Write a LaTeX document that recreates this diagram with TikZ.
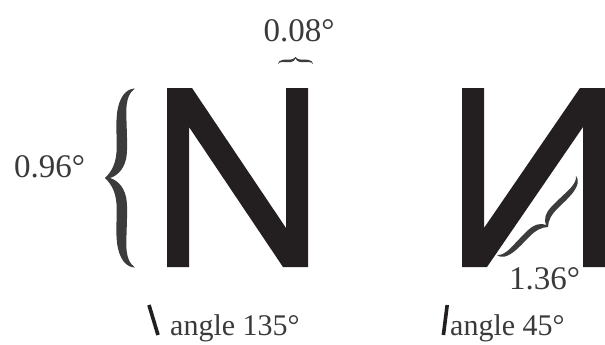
\documentclass[tikz,border=0pt]{standalone}
\usepackage{fontspec}
\setmainfont{Liberation Serif}
\definecolor{letterink}{HTML}{231F20}
\definecolor{textink}{HTML}{3A3A3A}
\definecolor{braceink}{HTML}{3C3C3C}
\tikzset{
  glyphfill/.style={fill=letterink},
  lbl/.style={text=textink, inner sep=0pt, font=\fontsize{33}{33}\selectfont},
  lblsmall/.style={text=textink, inner sep=0pt, font=\fontsize{30}{30}\selectfont},
  slashstroke/.style={draw=letterink, line width=3.6pt, line cap=butt},
  pics/curlybrace/.style={code={
    \fill[braceink] (0,0)
      .. controls (0.25,0.08) and (0.39,0.18) .. (0.39,0.35)
      .. controls (0.39,0.5) and (0.36,0.6) .. (0.40,0.72)
      .. controls (0.46,0.9) and (0.7,1.0) .. (1,1)
      .. controls (0.82,0.96) and (0.70,0.88) .. (0.71,0.72)
      .. controls (0.72,0.55) and (0.75,0.4) .. (0.73,0.28)
      .. controls (0.70,0.12) and (0.45,0.03) .. (0.17,0)
      .. controls (0.45,-0.03) and (0.70,-0.12) .. (0.73,-0.28)
      .. controls (0.75,-0.4) and (0.72,-0.55) .. (0.71,-0.72)
      .. controls (0.70,-0.88) and (0.82,-0.96) .. (1,-1)
      .. controls (0.7,-1.0) and (0.46,-0.9) .. (0.40,-0.72)
      .. controls (0.36,-0.6) and (0.39,-0.5) .. (0.39,-0.35)
      .. controls (0.39,-0.18) and (0.25,-0.08) .. (0,0) -- cycle;
  }}
}
\begin{document}
\begin{tikzpicture}[x=1pt,y=-1pt]
\useasboundingbox (0,0) rectangle (605,345);
% letter N
\fill[glyphfill] (167,88) -- (192,88) -- (286,228) -- (286,88) -- (308,88) -- (308,267)
  -- (283,267) -- (189,127) -- (189,267) -- (167,267) -- cycle;
% letter mirrored N
\fill[glyphfill] (462,88) -- (484,88) -- (484,228) -- (580,88) -- (605,88) -- (605,267)
  -- (583,267) -- (583,127) -- (487,267) -- (462,267) -- cycle;
% braces
\begin{scope}[shift={(105,178)}]
  \pic[x={(30pt,0pt)}, y={(0pt,89.5pt)}] (bleft) at (0,0) {curlybrace};
\end{scope}
\begin{scope}[shift={(295.5,57)}]
  \pic[x={(0pt,-7pt)}, y={(17.5pt,0pt)}] (btop) at (0,0) {curlybrace};
\end{scope}
\begin{scope}[shift={(548,227)}]
  \pic[x={(-11.5pt,11.5pt)}, y={(39.5pt,39.5pt)}] (bdiag) at (0,0) {curlybrace};
\end{scope}
% labels
\node[lbl, anchor=base] (t008) at (299,42) {0.08°};
\node[lbl, anchor=base] (t096) at (49.5,177.5) {0.96°};
\node[lbl, anchor=base] (t136) at (544.5,289) {1.36°};
\node[lblsmall, anchor=base west] (t135) at (170,335) {angle 135°};
\node[lblsmall, anchor=base west] (t45) at (450,335) {angle 45°};
% slashes
\coordinate (s1a) at (149,305); \coordinate (s1b) at (158,335);
\coordinate (s2a) at (447.2,305); \coordinate (s2b) at (443.4,335);
\draw[slashstroke] (s1a) -- (s1b);
\draw[slashstroke] (s2a) -- (s2b);
\end{tikzpicture}
\end{document}
